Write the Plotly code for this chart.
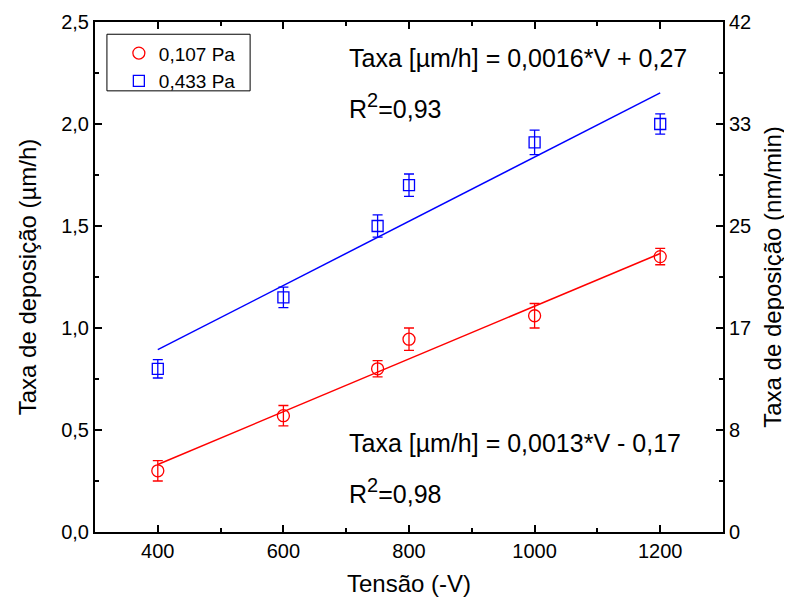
import numpy as np
import plotly.graph_objects as go

# data
tensao = [400, 600, 750, 800, 1000, 1200]
taxa_107 = [0.30, 0.57, 0.80, 0.945, 1.06, 1.35]
err_107 = [0.05, 0.05, 0.04, 0.055, 0.06, 0.04]
taxa_433 = [0.80, 1.15, 1.50, 1.70, 1.91, 2.00]
err_433 = [0.045, 0.05, 0.055, 0.055, 0.06, 0.05]
right_vals = [0, 8.4, 16.8, 25.2, 33.6, 42]
right_text = ["0", "8", "17", "25", "33", "42"]
UM_H_TO_NM_MIN = 16.8  # right axis scale vs left axis (0-2.5 -> 0-42)

RED = "#FF0000"; BLUE = "#0000FF"; INK = "#000000"
FONT = "Liberation Sans, Arial, sans-serif"

fig = go.Figure()

# linear fits from the points
fit_x = np.array([min(tensao), max(tensao)])
for ys, col in [(taxa_107, RED), (taxa_433, BLUE)]:
    k, b = np.polyfit(tensao, ys, 1)
    fig.add_trace(go.Scatter(x=fit_x, y=k*fit_x + b, mode="lines",
        line=dict(color=col, width=1.5), showlegend=False, hoverinfo="skip"))

fig.add_trace(go.Scatter(x=tensao, y=taxa_107, mode="markers", name="0,107 Pa",
    marker=dict(symbol="circle-open", size=12, color=RED, line=dict(width=1.3)),
    error_y=dict(type="data", array=err_107, color=RED, thickness=1.3, width=5)))
fig.add_trace(go.Scatter(x=tensao, y=taxa_433, mode="markers", name="0,433 Pa",
    marker=dict(symbol="square-open", size=11, color=BLUE, line=dict(width=1.3)),
    error_y=dict(type="data", array=err_433, color=BLUE, thickness=1.3, width=5)))

# same data in nm/min, invisible, so the right axis gets drawn
fig.add_trace(go.Scatter(x=tensao, y=np.array(taxa_433)*UM_H_TO_NM_MIN, yaxis="y2",
    mode="markers", marker=dict(opacity=0), showlegend=False, hoverinfo="skip"))

ann_font = dict(family=FONT, size=25, color=INK)
sup2 = "<sup><span style='font-size:20px'>2</span></sup>"
for txt, x, y in [("Taxa [µm/h] = 0,0016*V + 0,27", 0.401, 0.929),
                  ("R" + sup2 + "=0,93", 0.401, 0.835),
                  ("Taxa [µm/h] = 0,0013*V - 0,17", 0.401, 0.175),
                  ("R" + sup2 + "=0,98", 0.401, 0.08)]:
    fig.add_annotation(text=txt, x=x, y=y, xref="paper", yref="paper",
        xanchor="left", yanchor="middle", showarrow=False, font=ann_font)

# legend frame
fig.add_shape(type="rect", xref="paper", yref="paper", x0=0.019, x1=0.247,
    y0=0.865, y1=0.976, line=dict(color=INK, width=1), fillcolor="rgba(0,0,0,0)")

axis_common = dict(showline=True, linecolor=INK, linewidth=2, ticks="inside",
    ticklen=7, tickwidth=1.5, tickcolor=INK, showgrid=False, zeroline=False,
    automargin=False, tickfont=dict(family=FONT, size=20, color=INK))
title_font = dict(family=FONT, size=24, color=INK)

fig.update_layout(
    width=792, height=608,
    paper_bgcolor="white", plot_bgcolor="white",
    separators=",.",
    margin=dict(l=87, r=77, t=14, b=84),
    font=dict(family=FONT, color=INK),
    xaxis=dict(**axis_common, range=[300, 1300], dtick=200, tick0=0,
        mirror="ticks",
        minor=dict(ticks="inside", ticklen=4, tickwidth=1.5, dtick=100, tick0=0, tickcolor=INK),
        title=dict(text="Tensão (-V)", font=title_font, standoff=14)),
    yaxis=dict(**axis_common, range=[0, 2.5], dtick=0.5, tickformat=".1f", mirror=True,
        minor=dict(ticks="inside", ticklen=4, tickwidth=1.5, dtick=0.25, tick0=0, tickcolor=INK),
        title=dict(text="Taxa de deposição (µm/h)", font=title_font, standoff=18)),
    yaxis2=dict(**axis_common, overlaying="y", side="right", range=[0, 42],
        tickmode="array", tickvals=right_vals, ticktext=right_text,
        minor=dict(ticks="inside", ticklen=4, tickwidth=1.5, dtick=4.2, tick0=0, tickcolor=INK),
        title=dict(text="Taxa de deposição (nm/min)", font=title_font, standoff=14)),
    legend=dict(x=0.038, y=0.976, xanchor="left", yanchor="top",
        borderwidth=0, bgcolor="rgba(0,0,0,0)",
        font=dict(family=FONT, size=19, color=INK), tracegroupgap=0,
        itemwidth=30),
)

fig.write_html("out.html")
